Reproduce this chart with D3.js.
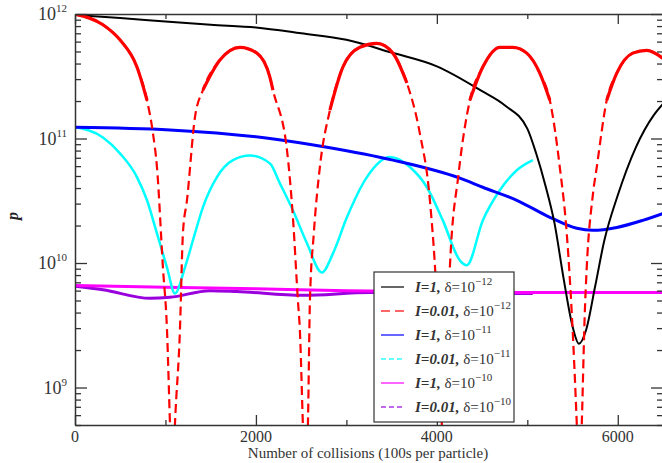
<!DOCTYPE html>
<html>
<head>
<meta charset="utf-8">
<script src="https://cdn.jsdelivr.net/npm/d3@7"></script>
<style>
  body { margin: 0; background: #fff; }
  text { font-family: "Liberation Serif", "Times New Roman", serif; }
</style>
</head>
<body>
<div id="chart"></div>
<script>
// Data: [collisions, p]
var i1d12 = [[0,9.8e11],[500,9.3e11],[1000,8.7e11],[1500,8.2e11],[2000,7.8e11],[2500,7.0e11],[3000,6.2e11],
  [3500,4.9e11],[4000,3.8e11],[4500,2.4e11],[4750,1.85e11],[5000,1.2e11],[5100,7.5e10],[5200,4.2e10],
  [5300,2.1e10],[5400,7.6e9],[5500,3.1e9],[5570,2.25e9],[5650,2.9e9],[5750,6.5e9],[5850,1.5e10],
  [6000,3.5e10],[6200,8.5e10],[6400,1.55e11],[6500,1.9e11]];

var i001d12 = [[0,1.0e12],[309,8.2e11],[497,6.2e11],[685,3.75e11],[796,2.03e11],[862,1.1e11],[906,5.9e10],
  [972,9.2e9],[1017,2.9e9],[1050,5.1e8],[1077,1.5e8],[1105,5.1e8],[1160,2.9e9],[1193,1.73e10],[1238,3.2e10],
  [1326,1.48e11],[1414,2.45e11],[1602,4.27e11],[1823,5.4e11],[2011,4.85e11],[2155,3.1e11],[2188,2.45e11],
  [2343,8.1e10],[2409,2.33e10],[2464,5.0e9],[2486,2.87e9],[2519,5.1e8],[2547,1.5e8],[2575,5.1e8],
  [2597,5.0e9],[2640,1.73e10],[2707,5.9e10],[2818,1.69e11],[2961,3.75e11],[3149,5.4e11],[3337,5.8e11],
  [3514,4.85e11],[3669,2.79e11],[3812,1.1e11],[3923,3.2e10],[4000,5.0e9],[4055,5.1e8],[4083,1.5e8],
  [4110,5.1e8],[4144,9.2e9],[4240,5.2e10],[4365,2.03e11],[4508,3.75e11],[4696,5.4e11],[4840,5.4e11],
  [4994,4.85e11],[5138,3.35e11],[5249,2.03e11],[5359,5.9e10],[5436,1.73e10],[5492,3.9e9],[5547,5.1e8],
  [5575,1.5e8],[5602,5.1e8],[5635,3.9e9],[5657,9.2e9],[5724,3.5e10],[5768,5.9e10],[5878,2.03e11],
  [5989,3.35e11],[6166,4.85e11],[6320,5.1e11],[6500,4.4e11]];

var i1d11 = [[0,1.23e11],[1050,1.17e11],[2155,1.0e11],[2785,8.5e10],[3514,6.7e10],[4254,4.8e10],
  [4508,4.06e10],[4884,3.19e10],[5249,2.33e10],[5547,1.9e10],[5724,1.83e10],[5989,1.93e10],
  [6276,2.2e10],[6500,2.5e10]];

var i001d11 = [[0,1.23e11],[309,1.02e11],[497,7.6e10],[685,4.9e10],[796,3.19e10],[906,1.73e10],
  [1017,9.2e9],[1105,5.7e9],[1215,9.2e9],[1326,1.73e10],[1414,2.8e10],[1569,4.9e10],[1746,6.7e10],
  [1934,7.3e10],[2155,6.3e10],[2265,4.36e10],[2409,2.65e10],[2564,1.44e10],[2729,8.4e9],[2851,1.19e10],
  [3006,2.33e10],[3227,4.9e10],[3481,7.1e10],[3702,5.9e10],[3890,4.06e10],[4066,2.2e10],[4254,1.05e10],
  [4331,9.6e9],[4508,2.2e10],[4696,3.84e10],[4884,5.56e10],[5061,6.7e10]];

var i1d10 = [[0,6.6e9],[1000,6.4e9],[2000,6.2e9],[3000,6.0e9],[4000,5.9e9],[5000,5.8e9],[6500,5.8e9]];

var i001d10 = [[0,6.5e9],[309,6.1e9],[829,5.2e9],[1050,5.3e9],[1492,6.0e9],[1790,5.9e9],[2519,5.5e9],
  [3260,5.8e9],[4000,5.7e9],[5060,5.7e9]];

var xTicks = [0, 2000, 4000, 6000];
var yTicks = [1e9, 1e10, 1e11, 1e12];
var yExp = ["9", "10", "11", "12"];

var series = [
  {data: i1d12,   color: "#000000", dash: null,  legendDash: null,  width: 2,   I: "I=1,",    d: "\u221212"},
  {data: i001d12, color: "#ff0000", dash: "9,5", legendDash: "9,5", width: 2.2, I: "I=0.01,", d: "\u221212"},
  {data: i1d11,   color: "#0000ff", dash: null,  legendDash: null,  width: 3,   I: "I=1,",    d: "\u221211"},
  {data: i001d11, color: "#00ffff", dash: null,  legendDash: "5,3", width: 2.5, I: "I=0.01,", d: "\u221211"},
  {data: i1d10,   color: "#ff00ff", dash: null,  legendDash: null,  width: 3,   I: "I=1,",    d: "\u221210"},
  {data: i001d10, color: "#9900dd", dash: null,  legendDash: "5,3", width: 3,   I: "I=0.01,", d: "\u221210"}
];

var svgWidth = 662;
var svgHeight = 463;
var margin = {top: 14, right: 0, bottom: 38, left: 75};
var chartWidth = 588;
var chartHeight = svgHeight - margin.top - margin.bottom;

var svg = d3.select("#chart").append("svg")
  .attr("width", svgWidth)
  .attr("height", svgHeight);

var chartGroup = svg.append("g")
  .attr("transform", `translate(${margin.left}, ${margin.top})`);

var xScale = d3.scaleLinear().domain([0, 6500]).range([0, chartWidth]);
var yScale = d3.scaleLog().domain([5e8, 1e12]).range([chartHeight, 0]);

chartGroup.append("clipPath").attr("id", "clip")
  .append("rect").attr("width", chartWidth).attr("height", chartHeight);

// Curves
var line = d3.line()
  .x(d => xScale(d[0]))
  .y(d => yScale(d[1]))
  .curve(d3.curveMonotoneX);

var plotArea = chartGroup.append("g").attr("clip-path", "url(#clip)");
// draw order: low curves first, black and red on top
[5, 4, 3, 2, 0, 1].forEach(function(i) {
  var s = series[i];
  plotArea.append("path")
    .datum(s.data)
    .attr("fill", "none")
    .attr("stroke", s.color)
    .attr("stroke-width", s.width)
    .attr("stroke-dasharray", s.dash)
    .attr("d", line);
});

// the noisy red peaks look solid: redraw the high parts without dashes
var peakLine = d3.line()
  .defined(d => d[1] >= 1.6e11)
  .x(d => xScale(d[0]))
  .y(d => yScale(d[1]))
  .curve(d3.curveMonotoneX);
plotArea.append("path")
  .datum(i001d12)
  .attr("fill", "none")
  .attr("stroke", "#ff0000")
  .attr("stroke-width", 3.2)
  .attr("d", peakLine);

// Axes: ticks on all four sides
var xMinor = d3.range(0, 6501, 1000);
var yMinor = [];
[1e8, 1e9, 1e10, 1e11].forEach(function(dec) {
  for (var k = 2; k <= 9; k++) {
    if (dec * k >= 5e8 && dec * k <= 1e12) yMinor.push(dec * k);
  }
});

var axisColor = "#333";

var bottomAxis = chartGroup.append("g")
  .attr("transform", `translate(0, ${chartHeight})`)
  .call(d3.axisBottom(xScale).tickValues(xMinor).tickSizeInner(-5).tickSizeOuter(0).tickFormat(""));
bottomAxis.call(g => g.selectAll(".tick line").filter(d => xTicks.indexOf(d) >= 0).attr("y2", -10));

var topAxis = chartGroup.append("g")
  .call(d3.axisTop(xScale).tickValues(xMinor).tickSizeInner(-5).tickSizeOuter(0).tickFormat(""));
topAxis.call(g => g.selectAll(".tick line").filter(d => xTicks.indexOf(d) >= 0).attr("y2", 10));

var leftAxis = chartGroup.append("g")
  .call(d3.axisLeft(yScale).tickValues(yTicks.concat(yMinor)).tickSizeInner(-6).tickSizeOuter(0).tickFormat(""));
leftAxis.call(g => g.selectAll(".tick line").filter(d => yTicks.indexOf(d) >= 0).attr("x2", 12));

var rightAxis = chartGroup.append("g")
  .attr("transform", `translate(${chartWidth}, 0)`)
  .call(d3.axisRight(yScale).tickValues(yTicks.concat(yMinor)).tickSizeInner(-6).tickSizeOuter(0).tickFormat(""));
rightAxis.call(g => g.selectAll(".tick line").filter(d => yTicks.indexOf(d) >= 0).attr("x2", -12));

chartGroup.selectAll(".domain").attr("stroke", axisColor).attr("stroke-width", 1.5);
chartGroup.selectAll(".tick line").attr("stroke", axisColor).attr("stroke-width", 1.3);

// Tick labels
chartGroup.selectAll(".xlabel")
  .data(xTicks)
  .enter()
  .append("text")
  .attr("x", d => xScale(d))
  .attr("y", chartHeight + 17)
  .attr("text-anchor", "middle")
  .attr("font-size", "16px")
  .attr("fill", "#333")
  .text(d => d);

var yLab = chartGroup.selectAll(".ylabel")
  .data(yTicks)
  .enter()
  .append("text")
  .attr("x", -8)
  .attr("y", d => yScale(d) + 6)
  .attr("text-anchor", "end")
  .attr("font-size", "18px")
  .attr("fill", "#333");
yLab.append("tspan").text("10");
yLab.append("tspan").attr("dy", -8).attr("font-size", "11px").text((d, i) => yExp[i]);

// Axis titles
svg.append("text")
  .attr("x", margin.left + 293)
  .attr("y", 458)
  .attr("text-anchor", "middle")
  .attr("font-size", "15px")
  .attr("fill", "#333")
  .text("Number of collisions (100s per particle)");

svg.append("text")
  .attr("transform", "translate(18, 216) rotate(-90)")
  .attr("text-anchor", "middle")
  .attr("font-size", "16px")
  .attr("font-weight", "bold")
  .attr("font-style", "italic")
  .attr("fill", "#222")
  .text("p");

// Legend
var legend = svg.append("g").attr("transform", "translate(374, 272)");
legend.append("rect")
  .attr("width", 140)
  .attr("height", 150)
  .attr("fill", "#fff")
  .attr("stroke", "#333")
  .attr("stroke-width", 1.2);

var rows = legend.selectAll(".row")
  .data(series)
  .enter()
  .append("g")
  .attr("transform", (d, i) => `translate(0, ${15 + i * 24})`);

rows.append("line")
  .attr("x1", 7).attr("x2", 30)
  .attr("stroke", d => d.color)
  .attr("stroke-opacity", 0.6)
  .attr("stroke-width", 2)
  .attr("stroke-dasharray", d => d.legendDash);

var lt = rows.append("text")
  .attr("x", 41)
  .attr("y", 5)
  .attr("font-size", "15px")
  .attr("fill", "#333");
lt.append("tspan").attr("font-weight", "bold").attr("font-style", "italic").text(d => d.I);
lt.append("tspan").text(" \u03b4=10");
lt.append("tspan").attr("dy", -7).attr("font-size", "11px").text(d => d.d);
</script>
</body>
</html>
